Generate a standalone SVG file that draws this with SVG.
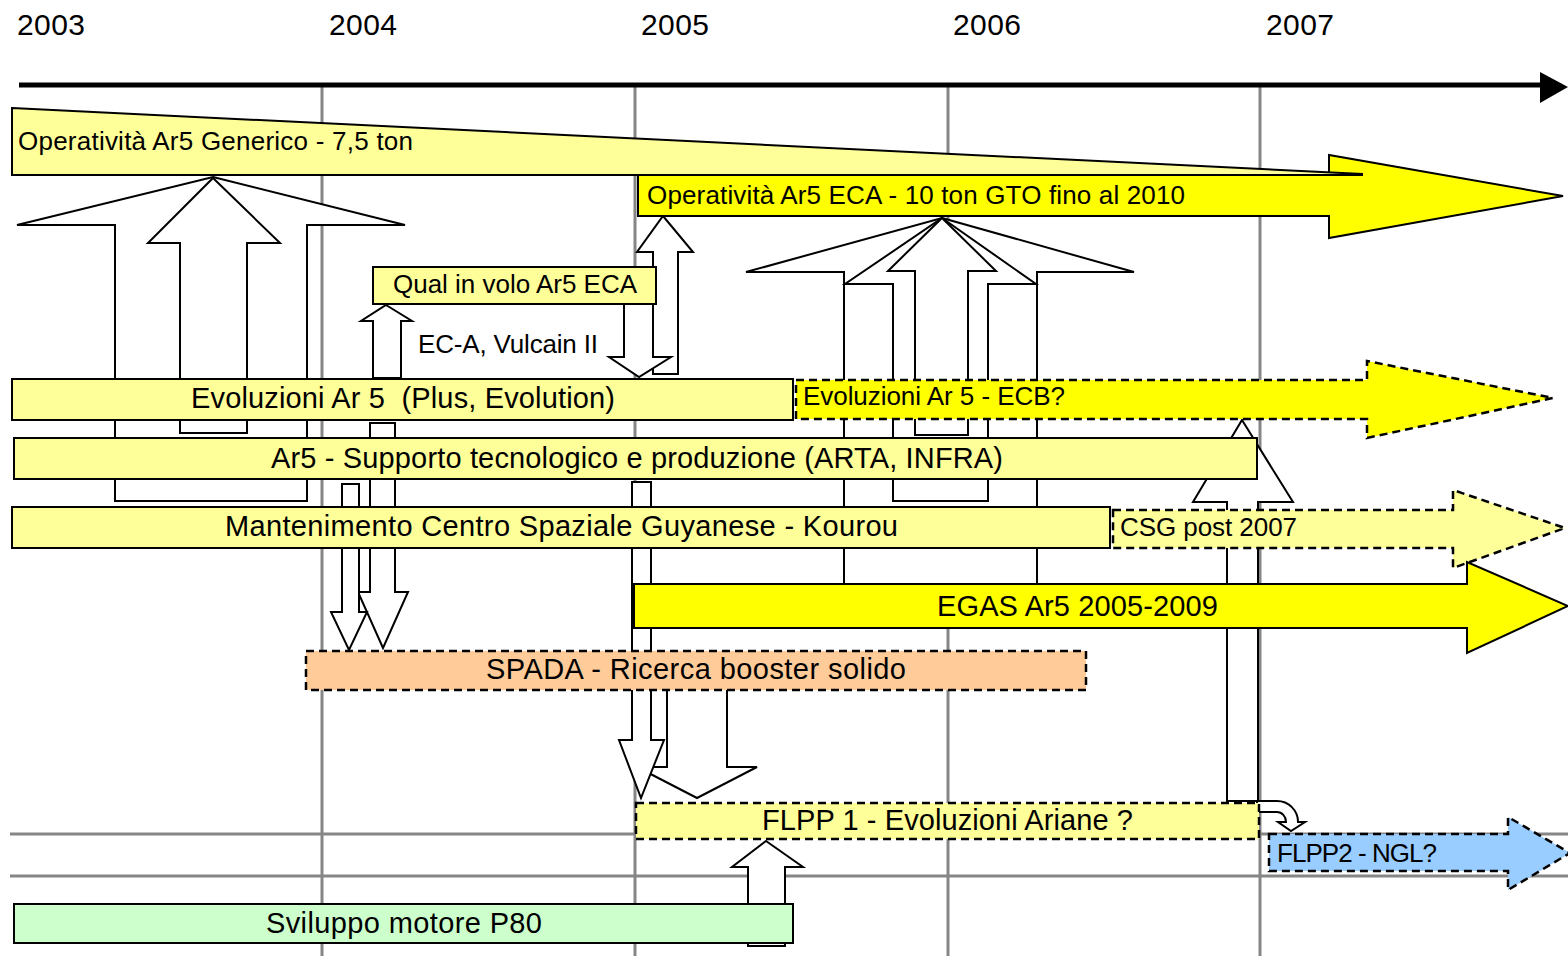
<svg xmlns="http://www.w3.org/2000/svg" width="1568" height="956" viewBox="0 0 1568 956">
<style>
.grid{stroke:#868686;stroke-width:3;fill:none}
.ax{stroke:#000;stroke-width:5}
.con{fill:#fff;stroke:#000;stroke-width:2;stroke-linejoin:miter}
.box{stroke:#000;stroke-width:2}
.dash{stroke:#000;stroke-width:2.5;stroke-dasharray:8 5}
.ly{fill:#FFFF99}
.yy{fill:#FFFF00}
.or{fill:#FFCC99}
.bl{fill:#99CCFF}
.gr{fill:#CCFFCC}
text{font-family:"Liberation Sans",Arial,sans-serif;font-size:26px;fill:#000}
.big{font-size:29px}
.yr{font-size:30px}
</style>
<rect width="1568" height="956" fill="#fff"/>
<g id="grid">
<line class="grid" x1="322" y1="86" x2="322" y2="956"/>
<line class="grid" x1="635" y1="86" x2="635" y2="956"/>
<line class="grid" x1="948" y1="86" x2="948" y2="956"/>
<line class="grid" x1="1260" y1="86" x2="1260" y2="956"/>
<line class="grid" x1="10" y1="834" x2="1568" y2="834"/>
<line class="grid" x1="10" y1="876" x2="1568" y2="876"/>
</g>
<g id="axis">
<line class="ax" x1="19" y1="85" x2="1542" y2="85"/>
<polygon points="1540,72 1568,87 1540,103" fill="#000"/>
<text class="yr" x="17" y="35" textLength="68">2003</text>
<text class="yr" x="329" y="35" textLength="68">2004</text>
<text class="yr" x="641" y="35" textLength="68">2005</text>
<text class="yr" x="953" y="35" textLength="68">2006</text>
<text class="yr" x="1266" y="35" textLength="68">2007</text>
</g>
<g id="connectors">
<polygon class="con" points="213,177 405,225 307,225 307,501 115,501 115,225 17,225"/>
<polygon class="con" points="213,178 280,243 247,243 247,433 180,433 180,243 148,243"/>
<polygon class="con" points="386,305 412,321 401,321 401,378 373,378 373,321 361,321"/>
<polygon class="con" points="663,216 693,252 678,252 678,374 653,374 653,252 637,252"/>
<polygon class="con" points="624,300 653,300 653,357 671,357 639,377 609,357 624,357"/>
<polygon class="con" points="942,218 1134,272 1037,272 1037,600 844,600 844,272 746,272"/>
<polygon class="con" points="942,218 1036,284 988,284 988,501 893,501 893,284 845,284"/>
<polygon class="con" points="942,218 996,271 968,271 968,435 915,435 915,271 888,271"/>
<polygon class="con" points="1242,420 1293,502 1258,502 1258,801 1227,801 1227,502 1193,502"/>
<path class="con" d="M1257,801 L1277,801 A21,21 0 0 1 1298,822 L1305,822 L1291,831 L1278,822 L1286,822 A9,10 0 0 0 1277,812 L1257,812 Z"/>
<polygon class="con" points="370,423 395,423 395,592 408,592 383,648 358,592 370,592"/>
<polygon class="con" points="342,484 359,484 359,612 367,612 349,650 331,612 342,612"/>
<polygon class="con" points="667,686 727,686 727,767 757,767 697,798 637,767 667,767"/>
<polygon class="con" points="632,482 651,482 651,740 664,740 641,798 619,740 632,740"/>
<polygon class="con" points="766,841 803,867 785,867 785,946 748,946 748,867 732,867"/>
</g>
<g id="n-eca">
<polygon class="box yy" points="638,175 1329,175 1329,155 1563,196 1329,238 1329,216 638,216"/>
<text x="647" y="204" textLength="538">Operatività Ar5 ECA - 10 ton GTO fino al 2010</text>
</g>
<g id="n-generico">
<polygon class="box ly" points="12,108 1362,174 1362,175 12,175"/>
<text x="18" y="150" textLength="395">Operatività Ar5 Generico - 7,5 ton</text>
</g>
<g id="n-qual">
<rect class="box ly" x="373" y="267" width="283" height="37"/>
<text x="393" y="293" textLength="244">Qual in volo Ar5 ECA</text>
</g>
<g id="n-eca-label">
<text x="418" y="353" textLength="180">EC-A, Vulcain II</text>
</g>
<g id="n-evol">
<rect class="box ly" x="12" y="379" width="781" height="41"/>
<text class="big" x="191" y="408" textLength="424" xml:space="preserve">Evoluzioni Ar 5  (Plus, Evolution)</text>
</g>
<g id="n-ecb">
<polygon class="dash yy" points="796,380 1367,380 1367,361 1553,398 1367,438 1367,419 796,419"/>
<text x="803" y="405" textLength="262">Evoluzioni Ar 5 - ECB?</text>
</g>
<g id="n-supporto">
<rect class="box ly" x="14" y="438" width="1243" height="41"/>
<text class="big" x="271" y="468" textLength="732">Ar5 - Supporto tecnologico e produzione (ARTA, INFRA)</text>
</g>
<g id="n-csg">
<rect class="box ly" x="12" y="507" width="1098" height="41"/>
<text class="big" x="225" y="536" textLength="673">Mantenimento Centro Spaziale Guyanese - Kourou</text>
</g>
<g id="n-csgpost">
<polygon class="dash ly" points="1113,510 1453,510 1453,490 1565,528 1453,568 1453,548 1113,548"/>
<text x="1120" y="536" textLength="177">CSG post 2007</text>
</g>
<g id="n-egas">
<polygon class="box yy" points="634,584 1467,584 1467,562 1568,606 1467,653 1467,628 634,628"/>
<text class="big" x="937" y="616" textLength="281">EGAS Ar5 2005-2009</text>
</g>
<g id="n-spada">
<rect class="dash or" x="306" y="651" width="780" height="39"/>
<text class="big" x="486" y="679" textLength="420">SPADA - Ricerca booster solido</text>
</g>
<g id="n-flpp1">
<rect class="dash ly" x="636" y="803" width="623" height="36"/>
<text class="big" x="762" y="830" textLength="371">FLPP 1 - Evoluzioni Ariane ?</text>
</g>
<g id="n-flpp2">
<polygon class="dash bl" points="1269,834 1508,834 1508,817 1570,853 1508,890 1508,871 1269,871"/>
<text x="1277" y="862" textLength="160">FLPP2 - NGL?</text>
</g>
<g id="n-p80">
<rect class="box gr" x="14" y="904" width="779" height="39"/>
<text class="big" x="266" y="933" textLength="276">Sviluppo motore P80</text>
</g>
</svg>
